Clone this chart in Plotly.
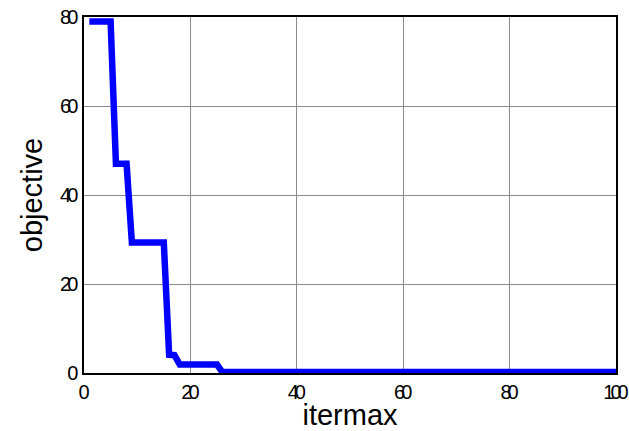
import plotly.graph_objects as go

iters = [1, 5, 6, 8, 9, 15, 16, 17, 18, 25, 26, 100]
objective = [79, 79, 47, 47, 29.3, 29.3, 4.1, 4.0, 1.9, 1.9, 0.2, 0.2]

x_ticks = [0, 20, 40, 60, 80, 100]
y_ticks = [0, 20, 40, 60, 80]


def tight(t, sp):
    if len(t) < 2:
        return t
    return f'<span style="letter-spacing:{sp}px">{t[:-1]}</span>{t[-1]}'


axis_common = dict(showline=True, linecolor="black", linewidth=1.5, mirror=True,
                   showgrid=True, gridcolor="#8c8c8c", gridwidth=1,
                   zeroline=False, ticks="", automargin=False, ticklabeloverflow="allow",
                   tickfont=dict(family="Liberation Sans", size=20, color="black"))

fig = go.Figure()
fig.add_trace(go.Scatter(x=iters, y=objective, mode="lines",
                         line=dict(color="#0000ff", width=6.5), showlegend=False))

fig.update_xaxes(range=[0, 100], tickvals=x_ticks,
                 ticktext=[tight(str(v), -4) for v in x_ticks],
                 title=dict(text="itermax", font=dict(family="Liberation Sans", size=29, color="black"), standoff=5),
                 **axis_common)
fig.update_yaxes(range=[0, 80], tickvals=y_ticks,
                 ticktext=[tight(str(v), -4) for v in y_ticks],
                 title=dict(text="objective", font=dict(family="Liberation Sans", size=29, color="black"), standoff=9),
                 **axis_common)

fig.update_layout(width=629, height=431, plot_bgcolor="white", paper_bgcolor="white",
                  margin=dict(l=84, r=13, t=17, b=58))

fig.write_html("out.html", config={"displayModeBar": False},
               post_script="document.body.style.margin='0';")
